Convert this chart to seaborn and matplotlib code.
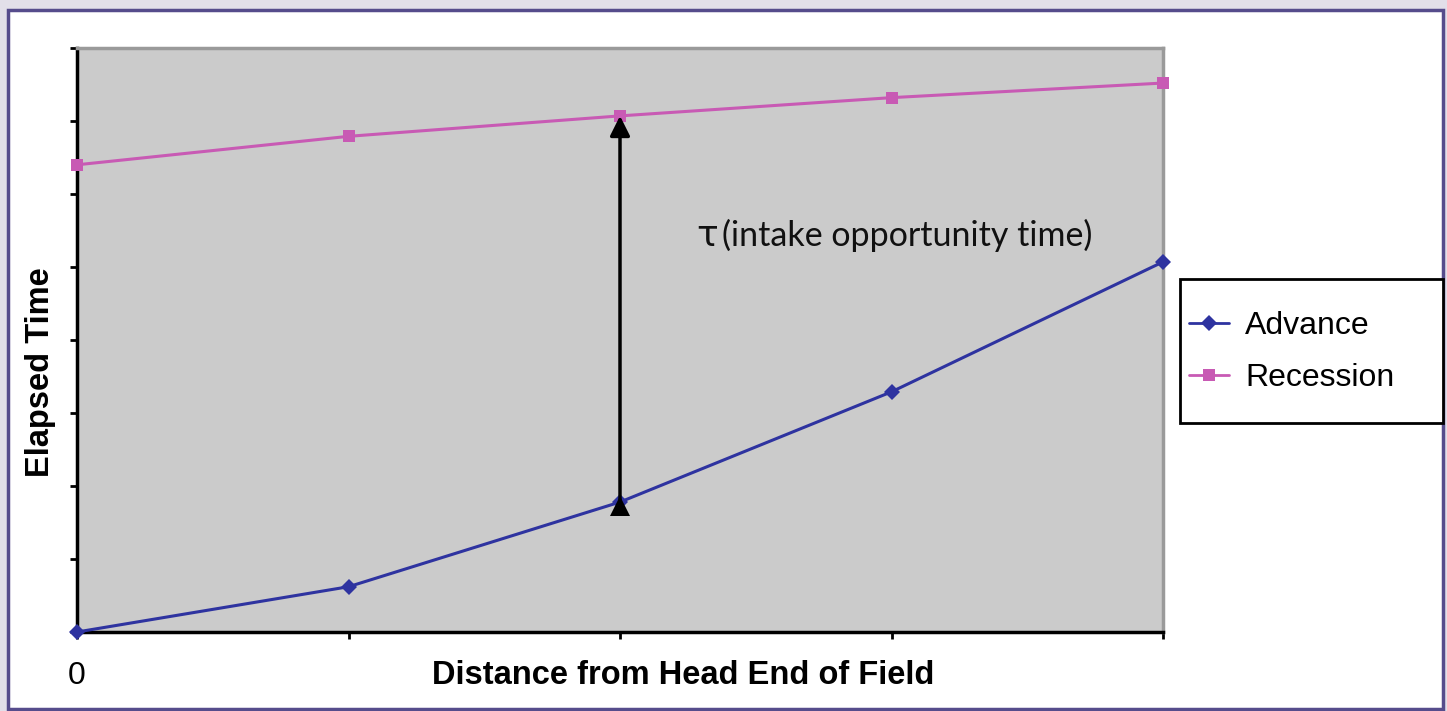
import matplotlib
matplotlib.use("Agg")
import matplotlib.pyplot as plt
import matplotlib.transforms as mtransforms
import seaborn as sns
import pandas as pd
from matplotlib.patches import Rectangle
from matplotlib.lines import Line2D

# Data (y in tick units, 8 intervals)
distance = [0, 1, 2, 3, 4]
advance = [0.0, 0.62, 1.78, 3.29, 5.07]
recession = [6.40, 6.79, 7.07, 7.32, 7.52]
series_names = ["Advance", "Recession"]
x_tick_labels = ["0", "", "", "", ""]
y_ticks = [0, 1, 2, 3, 4, 5, 6, 7, 8]

df = pd.DataFrame({
    "Distance": distance * 2,
    "Time": advance + recession,
    "Series": [series_names[0]] * len(distance) + [series_names[1]] * len(distance),
})

sns.set_style("ticks")
plt.rcParams["font.family"] = ["Liberation Sans", "DejaVu Sans"]
plt.rcParams["text.color"] = "black"
plt.rcParams["axes.labelcolor"] = "black"
plt.rcParams["xtick.labelcolor"] = "black"

W, H = 1447, 711
fig = plt.figure(figsize=(W / 100, H / 100), dpi=100)
fig.patch.set_facecolor("#e2dfe9")
frame = Rectangle((8 / W, 2 / H), 1435 / W, 699 / H,
                  transform=fig.transFigure, facecolor="white",
                  edgecolor="#564c8c", linewidth=2.5, zorder=-10)
fig.patches.append(frame)

ax = fig.add_axes([77 / W, 79 / H, 1086 / W, 584 / H])
ax.set_zorder(1)
ax.set_facecolor("#cbcbcb")

palette = {"Advance": "#2e33a0", "Recession": "#c85ab4"}
markers = {"Advance": "D", "Recession": "s"}
sns.lineplot(data=df, x="Distance", y="Time", hue="Series", style="Series",
             palette=palette, markers=markers, dashes=False, markersize=8,
             markeredgewidth=0, linewidth=2.2, ax=ax, legend=False, clip_on=False,
             zorder=3)

ax.set_xlim(distance[0], distance[-1])
ax.set_ylim(y_ticks[0], y_ticks[-1])
ax.set_xticks(distance)
ax.set_xticklabels(x_tick_labels, fontsize=23)
ax.set_yticks(y_ticks)
ax.set_yticklabels([])
ax.tick_params(axis="both", direction="out", length=5, width=2, color="black")
ax.tick_params(axis="x", pad=16)

for side in ["left", "bottom"]:
    ax.spines[side].set_color("black")
    ax.spines[side].set_linewidth(2.5)
for side in ["top", "right"]:
    ax.spines[side].set_visible(True)
    ax.spines[side].set_color("#9a9a9a")
    ax.spines[side].set_linewidth(2.5)

ax.set_xlabel("Distance from Head End of Field", fontsize=23.5, fontweight="bold",
              va="center", ha="center")
ax.set_ylabel("Elapsed Time", fontsize=23.5, fontweight="bold",
              va="center", ha="center")
ax.xaxis.set_label_coords(0.558, -0.075)
ax.yaxis.set_label_coords(-0.034, 0.445)

# Arrow: intake opportunity time (head at recession, triangle at advance)
ax.annotate("", xy=(distance[2], recession[2]), xytext=(distance[2], advance[2]),
            arrowprops=dict(arrowstyle="-|>", color="black", lw=2.5,
                            mutation_scale=30, shrinkA=0, shrinkB=0), zorder=4)
tri_tr = mtransforms.offset_copy(ax.transData, fig=fig, x=0, y=-2.5, units="points")
ax.plot([distance[2]], [advance[2]], marker="^", markersize=14, color="black",
        markeredgewidth=0, transform=tri_tr, zorder=5, clip_on=False)

base_y = 0.661
ax.text(0.570, base_y, "τ", transform=ax.transAxes, fontsize=26,
        family=["DejaVu Sans"], va="baseline", ha="left", color="#111111")
ax.text(0.594, base_y, "(intake opportunity time)", transform=ax.transAxes,
        fontsize=24.5, family=["Lato", "DejaVu Sans"], va="baseline", ha="left",
        color="#111111")

# Legend
handles = [Line2D([], [], color=palette[n], marker=markers[n], markersize=8,
                  markeredgewidth=0, linewidth=2) for n in series_names]
leg = fig.legend(handles, series_names, loc="center left",
                 bbox_to_anchor=(1189 / W, 1 - 352 / H), fontsize=23,
                 frameon=False, borderpad=0, labelspacing=0.7,
                 handlelength=1.25, handletextpad=0.5, borderaxespad=0,
                 labelcolor="black")
legend_box = Rectangle((1180 / W, 1 - 423 / H), 263 / W, 144 / H,
                       transform=fig.transFigure, facecolor="white",
                       edgecolor="black", linewidth=2, zorder=-5)
fig.patches.append(legend_box)

fig.savefig("out.png", dpi=100, facecolor=fig.get_facecolor())
